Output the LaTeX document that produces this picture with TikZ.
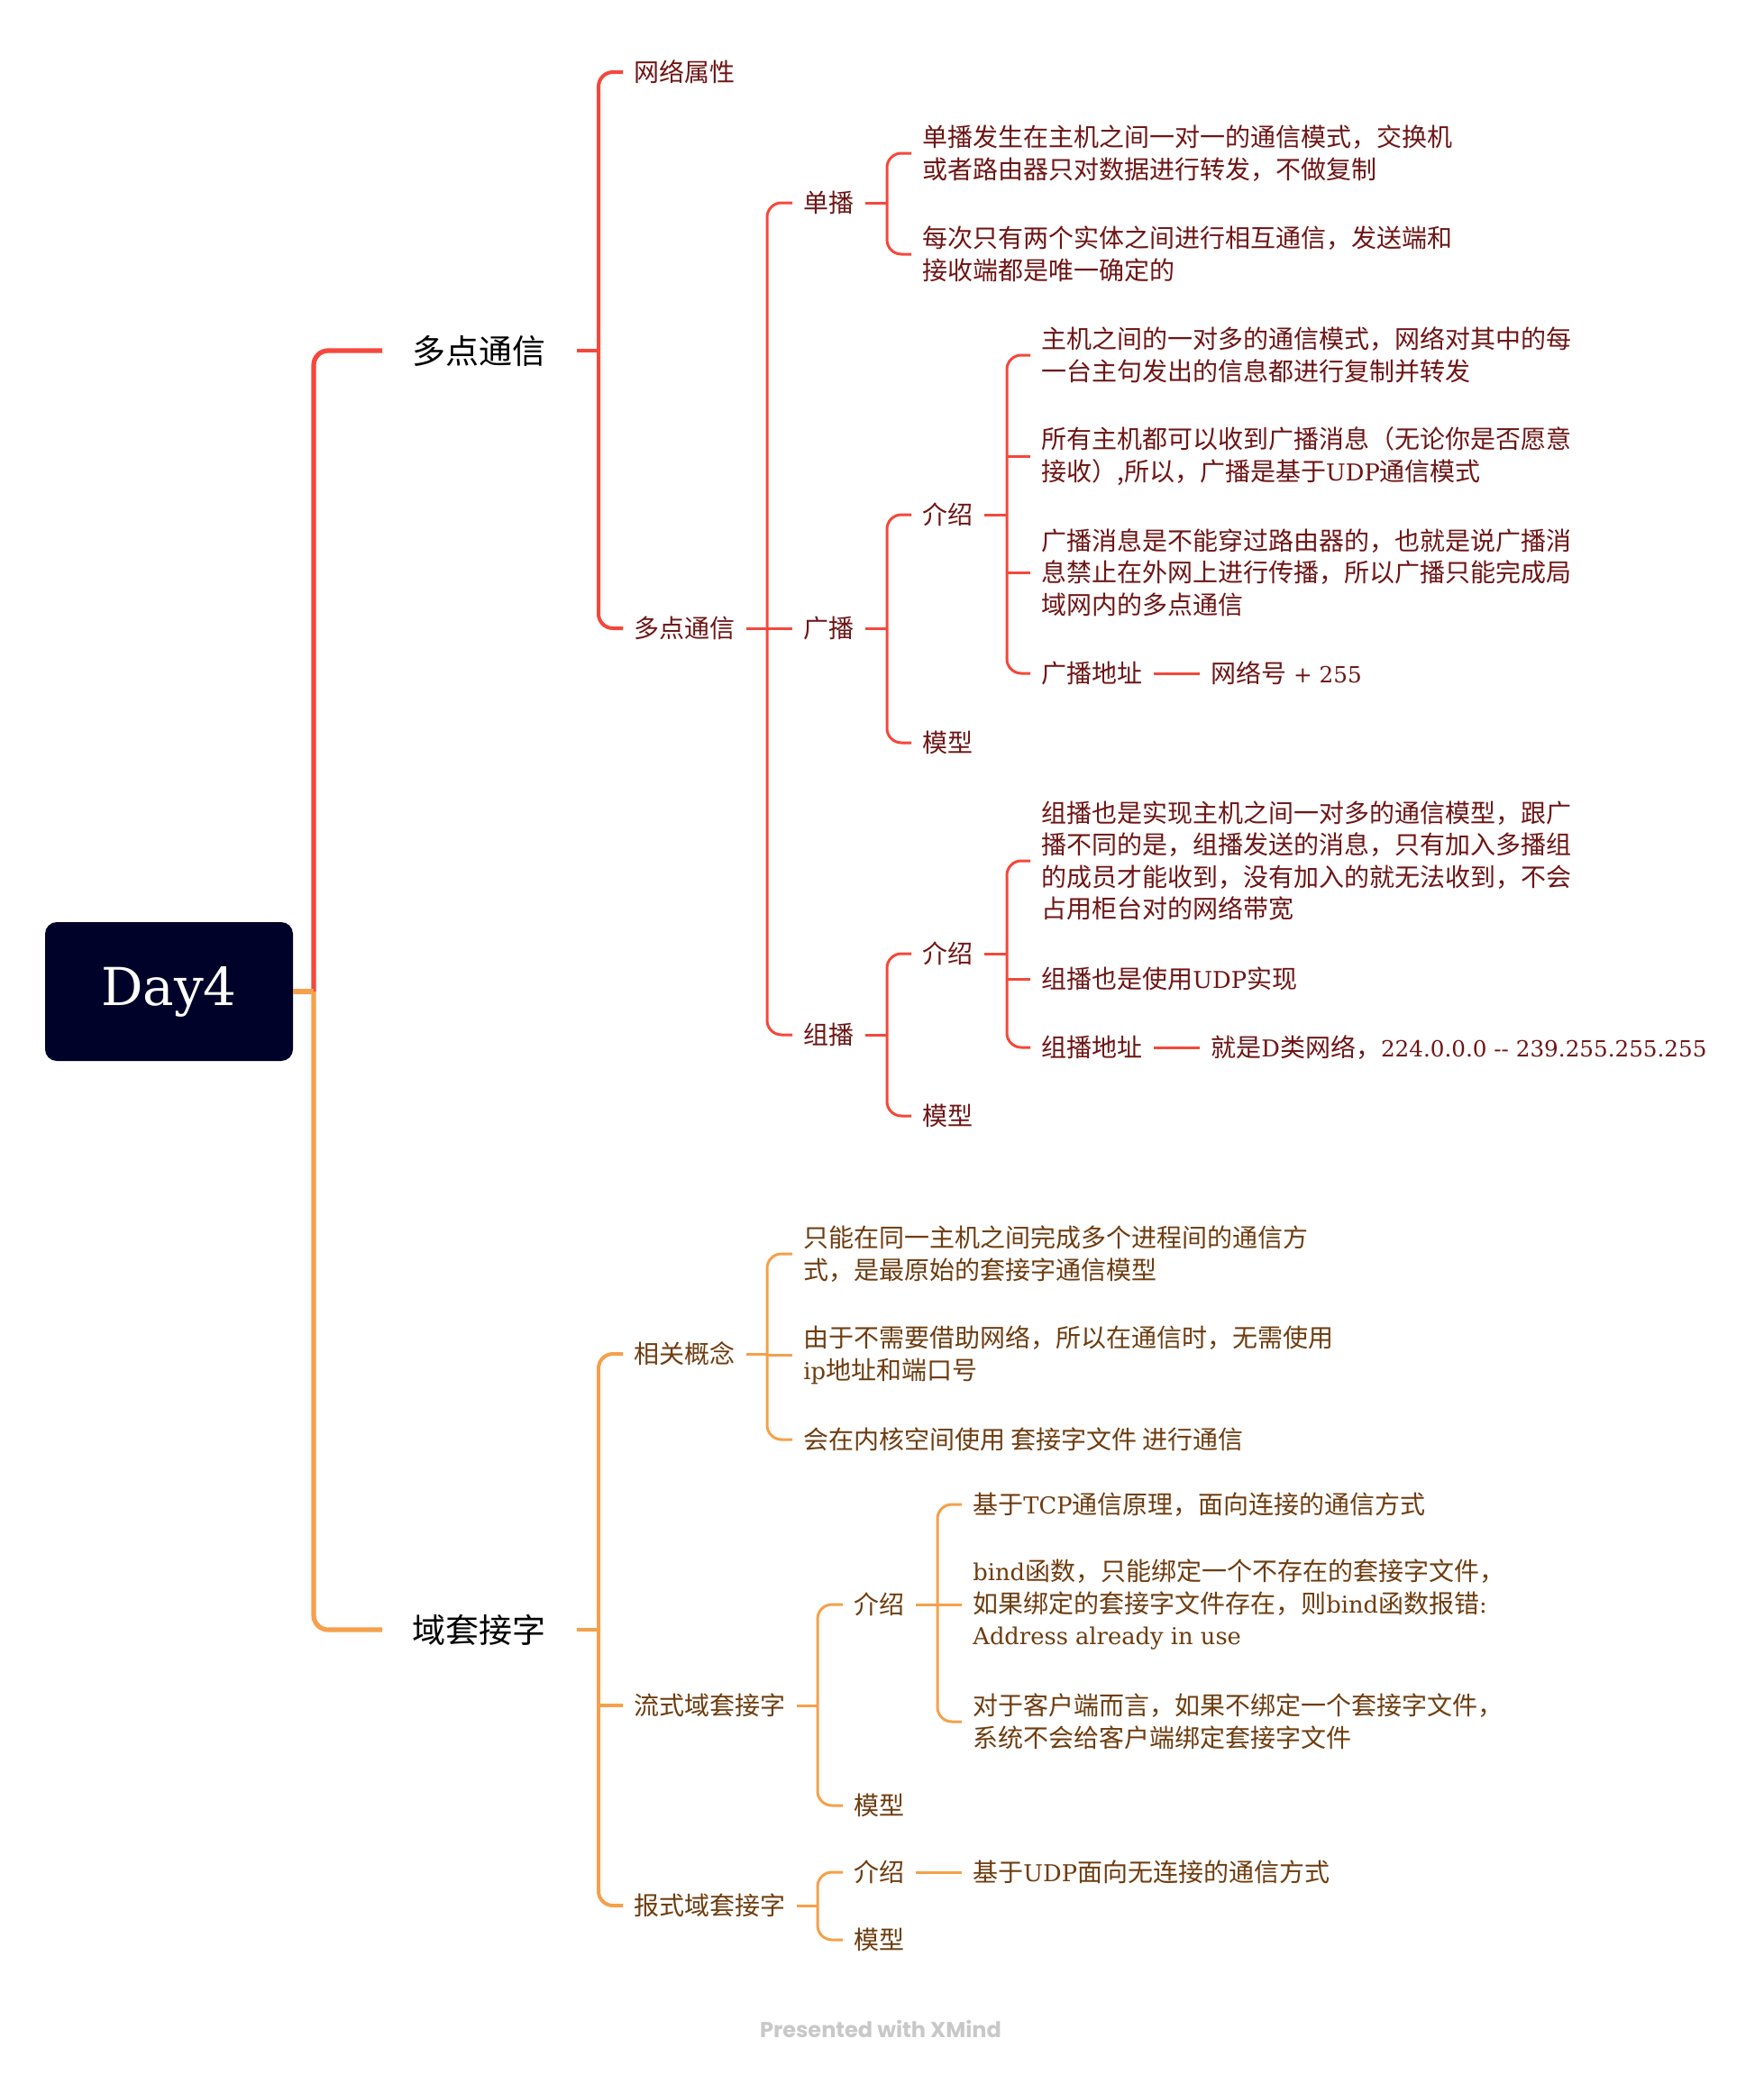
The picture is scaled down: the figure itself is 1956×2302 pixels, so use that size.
\documentclass[tikz,border=0pt]{standalone}
\usepackage{fontspec}
\setmainfont{Noto Sans CJK SC}
\newfontfamily\latfont{DejaVu Serif}[Scale=0.92]
\newfontfamily\numfont{DejaVu Serif}[Scale=0.88]
\newfontfamily\dayfont{DejaVu Serif}
\newfontfamily\xmfont{Poppins}
\newcommand{\LatSeg}[1]{{\latfont #1}}
\newcommand{\NumSeg}[1]{{\numfont #1}}
\definecolor{rline}{HTML}{F5473B}
\definecolor{oline}{HTML}{F5A04B}
\definecolor{rtext}{HTML}{6E1515}
\definecolor{otext}{HTML}{6E3C0F}
\definecolor{rootfill}{HTML}{000229}
\definecolor{credgray}{HTML}{C8C8C8}
\tikzset{
  rootnode/.style={fill=rootfill, rounded corners=6.5pt, minimum width=137.5pt, minimum height=77pt, text=white, font=\dayfont\fontsize{29}{34}\selectfont, inner sep=0pt},
  maintopic/.style={anchor=west, inner xsep=16.75pt, inner ysep=2pt, font=\fontsize{18.5}{22}\selectfont, text=black},
  leaf/.style={anchor=west, inner xsep=6pt, inner ysep=2pt, align=left, font=\fontsize{14}{17.8}\selectfont},
  rt/.style={leaf, text=rtext},
  ot/.style={leaf, text=otext},
  rl/.style={draw=rline},
  ol/.style={draw=oline},
  lwa/.style={line width=2.6pt},
  lwb/.style={line width=2pt},
  lwc/.style={line width=1.5pt},
  rc/.style={rounded corners=8pt},
}
\begin{document}
\begin{tikzpicture}[x=0.5pt,y=-0.5pt]
\useasboundingbox (0,0) rectangle (1956,2302);

% root
\node[rootnode] (root) at (187.5,1100) {Day4};
\coordinate (j0) at (348,1100);

% main topics
\node[maintopic] (m1) at (424,389) {多点通信};
\node[maintopic] (m2) at (424,1808) {域套接字};

% red subtree
\node[rt] (a1) at (691,80) {网络属性};
\node[rt] (a2) at (691,697) {多点通信};
\node[rt] (b1) at (879,225) {单播};
\node[rt] (b2) at (879,697) {广播};
\node[rt] (b3) at (879,1148) {组播};
\node[rt] (c1) at (1011,170) {单播发生在主机之间一对一的通信模式，交换机\\或者路由器只对数据进行转发，不做复制};
\node[rt] (c2) at (1011,282) {每次只有两个实体之间进行相互通信，发送端和\\接收端都是唯一确定的};
\node[rt] (d1) at (1011,571) {介绍};
\node[rt] (d2) at (1011,824) {模型};
\node[rt] (e1) at (1143,394) {主机之间的一对多的通信模式，网络对其中的每\\一台主句发出的信息都进行复制并转发};
\node[rt] (e2) at (1143,506) {所有主机都可以收到广播消息（无论你是否愿意\\接收）,所以，广播是基于\LatSeg{UDP}通信模式};
\node[rt] (e3) at (1143,635) {广播消息是不能穿过路由器的，也就是说广播消\\息禁止在外网上进行传播，所以广播只能完成局\\域网内的多点通信};
\node[rt] (e4) at (1143,747) {广播地址};
\node[rt] (e5) at (1331,747) {网络号\NumSeg{ + 255}};
\node[rt] (f1) at (1011,1058) {介绍};
\node[rt] (f2) at (1011,1238) {模型};
\node[rt] (g1) at (1143,955) {组播也是实现主机之间一对多的通信模型，跟广\\播不同的是，组播发送的消息，只有加入多播组\\的成员才能收到，没有加入的就无法收到，不会\\占用柜台对的网络带宽};
\node[rt] (g2) at (1143,1086) {组播也是使用\LatSeg{UDP}实现};
\node[rt] (g3) at (1143,1162) {组播地址};
\node[rt] (g4) at (1331,1162) {就是\LatSeg{D}类网络，\NumSeg{224.0.0.0 -{}- 239.255.255.255}};

% orange subtree
\node[ot] (h1) at (691,1502) {相关概念};
\node[ot] (h2) at (691,1892) {流式域套接字};
\node[ot] (h3) at (691,2114) {报式域套接字};
\node[ot] (i1) at (879,1391) {只能在同一主机之间完成多个进程间的通信方\\式，是最原始的套接字通信模型};
\node[ot] (i2) at (879,1503) {由于不需要借助网络，所以在通信时，无需使用\\\LatSeg{ip}地址和端口号};
\node[ot] (i3) at (879,1597) {会在内核空间使用 套接字文件 进行通信};
\node[ot] (j1) at (935,1780) {介绍};
\node[ot] (j2) at (935,2003) {模型};
\node[ot] (k1) at (1067,1669) {基于\LatSeg{TCP}通信原理，面向连接的通信方式};
\node[ot] (k2) at (1067,1780) {\LatSeg{bind}函数，只能绑定一个不存在的套接字文件，\\如果绑定的套接字文件存在，则\LatSeg{bind}函数报错\LatSeg{:}\\\LatSeg{Address already in use}};
\node[ot] (k3) at (1067,1910) {对于客户端而言，如果不绑定一个套接字文件，\\系统不会给客户端绑定套接字文件};
\node[ot] (l1) at (935,2077) {介绍};
\node[ot] (l2) at (935,2152) {模型};
\node[ot] (l3) at (1067,2077) {基于\LatSeg{UDP}面向无连接的通信方式};

% credit
\node[font=\xmfont\bfseries\fontsize{12}{14}\selectfont, text=credgray] (credit) at (977,2251) {Presented with XMind};

% vertical positions
\coordinate (v2) at (664,0);
\coordinate (v3) at (851,0);
\coordinate (v3b) at (907,0);
\coordinate (v4) at (984,0);
\coordinate (v4b) at (1040,0);
\coordinate (v5) at (1117,0);

% level 1
\draw[rl,lwa,rc] (j0) |- (m1.west);
\draw[ol,lwa,rc] (j0) |- (m2.west);
\draw[ol,lwa] (root.east) -- (j0);

% red level 2
\draw[rl,lwb] (m1.east) -- (m1.east -| v2);
\draw[rl,lwb,rc] (a1.west) -- (a1.west -| v2) -- (a2.west -| v2) -- (a2.west);
% red level 3
\draw[rl,lwc] (a2.east) -- (a2.east -| v3);
\draw[rl,lwc,rc] (b1.west) -- (b1.west -| v3) -- (b3.west -| v3) -- (b3.west);
\draw[rl,lwc] (b2.west) -- (b2.west -| v3);
% unicast
\draw[rl,lwc] (b1.east) -- (b1.east -| v4);
\draw[rl,lwc,rc] (c1.west) -- (c1.west -| v4) -- (c2.west -| v4) -- (c2.west);
% broadcast
\draw[rl,lwc] (b2.east) -- (b2.east -| v4);
\draw[rl,lwc,rc] (d1.west) -- (d1.west -| v4) -- (d2.west -| v4) -- (d2.west);
\draw[rl,lwc] (d1.east) -- (d1.east -| v5);
\draw[rl,lwc,rc] (e1.west) -- (e1.west -| v5) -- (e4.west -| v5) -- (e4.west);
\draw[rl,lwc] (e2.west) -- (e2.west -| v5);
\draw[rl,lwc] (e3.west) -- (e3.west -| v5);
\draw[rl,lwc] (e4.east) -- (e5.west);
% multicast
\draw[rl,lwc] (b3.east) -- (b3.east -| v4);
\draw[rl,lwc,rc] (f1.west) -- (f1.west -| v4) -- (f2.west -| v4) -- (f2.west);
\draw[rl,lwc] (f1.east) -- (f1.east -| v5);
\draw[rl,lwc,rc] (g1.west) -- (g1.west -| v5) -- (g3.west -| v5) -- (g3.west);
\draw[rl,lwc] (g2.west) -- (g2.west -| v5);
\draw[rl,lwc] (g3.east) -- (g4.west);

% orange level 2
\draw[ol,lwb] (m2.east) -- (m2.east -| v2);
\draw[ol,lwb,rc] (h1.west) -- (h1.west -| v2) -- (h3.west -| v2) -- (h3.west);
\draw[ol,lwb] (h2.west) -- (h2.west -| v2);
% concepts
\draw[ol,lwc] (h1.east) -- (h1.east -| v3);
\draw[ol,lwc,rc] (i1.west) -- (i1.west -| v3) -- (i3.west -| v3) -- (i3.west);
\draw[ol,lwc] (i2.west) -- (i2.west -| v3);
% stream
\draw[ol,lwc] (h2.east) -- (h2.east -| v3b);
\draw[ol,lwc,rc] (j1.west) -- (j1.west -| v3b) -- (j2.west -| v3b) -- (j2.west);
\draw[ol,lwc] (j1.east) -- (j1.east -| v4b);
\draw[ol,lwc,rc] (k1.west) -- (k1.west -| v4b) -- (k3.west -| v4b) -- (k3.west);
\draw[ol,lwc] (k2.west) -- (k2.west -| v4b);
% datagram
\draw[ol,lwc] (h3.east) -- (h3.east -| v3b);
\draw[ol,lwc,rc] (l1.west) -- (l1.west -| v3b) -- (l2.west -| v3b) -- (l2.west);
\draw[ol,lwc] (l1.east) -- (l3.west);
\end{tikzpicture}
\end{document}
